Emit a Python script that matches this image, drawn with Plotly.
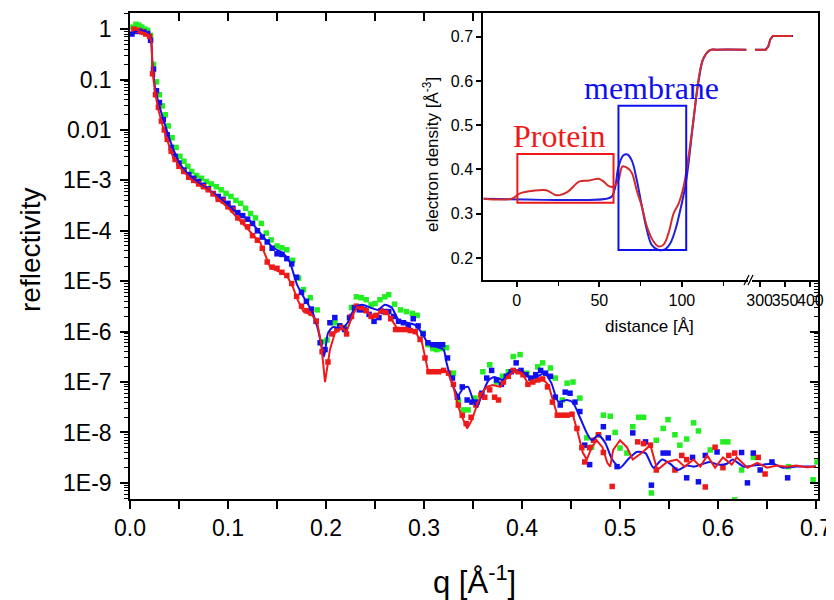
import plotly.graph_objects as go

# reflectivity data (q in 1/A)
green_q = [0.003, 0.006, 0.009, 0.012, 0.015, 0.018, 0.021, 0.024, 0.027, 0.030,
           0.033, 0.036, 0.039, 0.043, 0.047, 0.051, 0.055, 0.059, 0.063, 0.068,
           0.073, 0.078, 0.083, 0.088, 0.093, 0.098, 0.103, 0.108, 0.113, 0.118,
           0.123, 0.128, 0.134, 0.139, 0.144, 0.150, 0.155, 0.160, 0.166, 0.172,
           0.177, 0.184, 0.191, 0.196, 0.201, 0.209, 0.214, 0.219, 0.226, 0.231,
           0.236, 0.241, 0.246, 0.250, 0.255, 0.260, 0.264, 0.270, 0.276, 0.282,
           0.288, 0.293, 0.299, 0.304, 0.309, 0.313, 0.318, 0.323, 0.330, 0.335,
           0.340, 0.345, 0.352, 0.360, 0.367, 0.374, 0.380, 0.386, 0.391, 0.398,
           0.405, 0.410, 0.416, 0.421, 0.429, 0.434, 0.441, 0.446, 0.452, 0.459,
           0.466, 0.471, 0.478, 0.483, 0.490, 0.495, 0.500, 0.507, 0.513, 0.519,
           0.524, 0.532, 0.537, 0.544, 0.549, 0.556, 0.561, 0.568, 0.575, 0.580,
           0.592, 0.605, 0.610, 0.617, 0.624, 0.636, 0.672, 0.697, 0.701]
green_r = [1.1, 1.25, 1.2, 1.1, 1.0, 0.95, 0.75, 0.2, 0.09, 0.05,
           0.03, 0.02, 0.012, 7e-3, 4.5e-3, 3.0e-3, 2.4e-3, 1.9e-3, 1.5e-3, 1.25e-3,
           1.1e-3, 9.5e-4, 8.5e-4, 7.5e-4, 6.5e-4, 5.5e-4, 4.8e-4, 4e-4, 3.5e-4, 2.8e-4,
           2.2e-4, 1.8e-4, 1.4e-4, 9e-5, 6.6e-5, 5e-5, 4.6e-5, 4.2e-5, 2.6e-5, 1.15e-5,
           6.8e-6, 4.7e-6, 2.7e-6, 6.3e-7, 6.8e-7, 1.5e-6, 1.3e-6, 1.2e-6, 3e-6, 4.9e-6,
           4.7e-6, 4.3e-6, 3.4e-6, 3.6e-6, 4.3e-6, 4.9e-6, 5.4e-6, 3.5e-6, 2.7e-6, 2.5e-6,
           2.3e-6, 2.1e-6, 9.3e-7, 5.5e-7, 4.6e-7, 4.4e-7, 4.6e-7, 4.8e-7, 1.5e-7, 4.4e-8,
           2.8e-8, 2.8e-8, 4.8e-8, 1.6e-7, 2.2e-7, 1e-7, 1.3e-7, 1.6e-7, 3.2e-7, 3.5e-7,
           1.5e-7, 1.1e-7, 2e-7, 2.4e-7, 1.9e-7, 1.2e-7, 4.4e-8, 9.5e-8, 1e-7, 4.8e-8,
           7.8e-9, 5.1e-9, 9e-9, 2.2e-8, 2.1e-8, 1e-8, 4.9e-9, 3.9e-9, 1.3e-8, 2e-8,
           2e-8, 6.3e-10, 7e-9, 1.2e-8, 1.8e-8, 9e-9, 5.6e-9, 7.4e-9, 1.55e-8, 1.07e-8,
           4.5e-9, 6.5e-9, 6.5e-9, 4.6e-10, 1.8e-9, 3.2e-9, 2.1e-9, 1.15e-9, 2.6e-9]

blue_q = [0.002, 0.006, 0.010, 0.014, 0.018, 0.021, 0.024, 0.027, 0.030, 0.034,
          0.038, 0.042, 0.046, 0.050, 0.055, 0.060, 0.065, 0.070, 0.075, 0.080,
          0.085, 0.090, 0.095, 0.100, 0.105, 0.110, 0.115, 0.120, 0.125, 0.130,
          0.135, 0.140, 0.145, 0.150, 0.155, 0.160, 0.165, 0.170, 0.175, 0.180,
          0.185, 0.190, 0.194, 0.199, 0.204, 0.209, 0.214, 0.219, 0.224, 0.229,
          0.234, 0.239, 0.244, 0.249, 0.254, 0.259, 0.264, 0.269, 0.274, 0.279,
          0.284, 0.289, 0.294, 0.299, 0.304, 0.309, 0.314, 0.319, 0.324, 0.329,
          0.334, 0.339, 0.344, 0.349, 0.354, 0.359, 0.364, 0.369, 0.374, 0.379,
          0.384, 0.389, 0.394, 0.399, 0.404, 0.409, 0.414, 0.419, 0.424, 0.429,
          0.434, 0.439, 0.444, 0.449, 0.454, 0.459, 0.464, 0.469, 0.483, 0.488,
          0.497, 0.513, 0.526, 0.532, 0.544, 0.549, 0.568, 0.574, 0.580, 0.587,
          0.599, 0.624, 0.630, 0.636, 0.643, 0.655, 0.671, 0.666]
blue_r = [0.8, 0.9, 0.92, 0.88, 0.82, 0.6, 0.16, 0.06, 0.035, 0.016,
          8e-3, 4.5e-3, 3.0e-3, 2.2e-3, 1.6e-3, 1.3e-3, 1.1e-3, 9.5e-4, 8e-4, 6.8e-4,
          5.5e-4, 4.8e-4, 4.2e-4, 3.5e-4, 2.8e-4, 2.3e-4, 2.0e-4, 1.7e-4, 1.4e-4, 1.0e-4,
          7.5e-5, 6e-5, 4.5e-5, 3.5e-5, 3.4e-5, 2.8e-5, 2.2e-5, 1.2e-5, 6e-6, 4e-6,
          2.8e-6, 1.6e-6, 6e-7, 4.4e-7, 1.5e-6, 1.9e-6, 1.3e-6, 1.1e-6, 1.9e-6, 3.0e-6,
          2.7e-6, 2.7e-6, 2.2e-6, 1.6e-6, 1.9e-6, 2.5e-6, 2.5e-6, 2.0e-6, 1.6e-6, 1.5e-6,
          1.3e-6, 1.8e-6, 1.3e-6, 9e-7, 6e-7, 5.5e-7, 5.5e-7, 5.5e-7, 3e-7, 1.2e-7,
          5e-8, 8e-8, 4.4e-8, 4e-8, 4e-8, 6e-8, 1.2e-7, 1.7e-7, 1.1e-7, 9e-8,
          1.3e-7, 1.6e-7, 2.4e-7, 1.7e-7, 1.4e-7, 1.2e-7, 1.4e-7, 1.7e-7, 1.5e-7, 1.3e-7,
          5e-8, 3.5e-8, 6.3e-8, 6e-8, 4e-8, 2.6e-8, 5.6e-9, 2.3e-9, 1.3e-8, 7.8e-9,
          2.1e-9, 9.8e-9, 6.5e-9, 9e-10, 3.9e-9, 3.9e-9, 1.26e-9, 3.2e-9, 1.05e-9, 3.5e-9,
          4.1e-9, 4e-9, 1e-9, 3.9e-9, 1.8e-9, 2.6e-9, 1.26e-9, 4.2e-10]

red_q = [0.004, 0.008, 0.012, 0.016, 0.020, 0.023, 0.026, 0.029, 0.032, 0.035,
         0.038, 0.042, 0.046, 0.050, 0.055, 0.060, 0.065, 0.070, 0.075, 0.080,
         0.085, 0.090, 0.095, 0.100, 0.105, 0.110, 0.115, 0.120, 0.125, 0.130,
         0.135, 0.140, 0.145, 0.150, 0.155, 0.160, 0.165, 0.170, 0.175, 0.180,
         0.185, 0.190, 0.196, 0.202, 0.206, 0.211, 0.216, 0.221, 0.226, 0.231,
         0.236, 0.241, 0.246, 0.251, 0.256, 0.261, 0.266, 0.271, 0.276, 0.281,
         0.286, 0.291, 0.296, 0.301, 0.305, 0.310, 0.315, 0.320, 0.325, 0.330,
         0.335, 0.339, 0.343, 0.348, 0.353, 0.358, 0.362, 0.367, 0.372, 0.376,
         0.381, 0.386, 0.391, 0.396, 0.401, 0.406, 0.411, 0.416, 0.421, 0.426,
         0.431, 0.436, 0.441, 0.446, 0.451, 0.456, 0.461, 0.464, 0.469, 0.473,
         0.478, 0.483, 0.492, 0.518, 0.524, 0.531, 0.537, 0.556, 0.563, 0.568,
         0.587, 0.597, 0.605, 0.611, 0.617, 0.641, 0.648]
red_r = [1.0, 0.95, 0.88, 0.8, 0.72, 0.13, 0.05, 0.028, 0.015, 0.01,
         6.5e-3, 3.8e-3, 2.6e-3, 1.9e-3, 1.5e-3, 1.15e-3, 1.0e-3, 8.5e-4, 7.5e-4, 6.5e-4,
         5.4e-4, 4.2e-4, 3.9e-4, 3.0e-4, 2.6e-4, 1.8e-4, 1.5e-4, 1.2e-4, 8e-5, 6.5e-5,
         4.5e-5, 2.4e-5, 1.9e-5, 1.8e-5, 1.5e-5, 1.3e-5, 9e-6, 5e-6, 3.2e-6, 2.6e-6,
         2.3e-6, 1.6e-6, 4e-7, 2.5e-7, 9e-7, 1.1e-6, 1.2e-6, 9e-7, 2e-6, 3.2e-6,
         3.0e-6, 2.6e-6, 2.0e-6, 2.1e-6, 2.6e-6, 2.4e-6, 1.8e-6, 1.1e-6, 1.1e-6, 1.1e-6,
         1.05e-6, 1.0e-6, 7e-7, 3e-7, 1.6e-7, 1.6e-7, 1.6e-7, 1.7e-7, 1.5e-7, 9e-8,
         3.5e-8, 2.2e-8, 1.5e-8, 2.0e-8, 3.5e-8, 5.5e-8, 5e-8, 7e-8, 5e-8, 4.4e-8,
         1.0e-7, 1.3e-7, 1.7e-7, 1.6e-7, 1.4e-7, 9e-8, 1.0e-7, 1.1e-7, 1.15e-7, 8e-8,
         4e-8, 2.2e-8, 2.2e-8, 2.2e-8, 2.3e-8, 1.2e-8, 5e-9, 2.6e-9, 5e-9, 7e-9,
         9e-9, 4e-9, 8.5e-10, 6.5e-9, 6e-9, 5.6e-9, 1.8e-9, 1.8e-9, 3.5e-9, 2.9e-9,
         8.3e-10, 5.1e-9, 2.0e-9, 3.5e-9, 3.9e-9, 3.2e-9, 1.5e-9]

# fits
blue_fit_q = [0.000, 0.010, 0.018, 0.021, 0.023, 0.026, 0.030, 0.035, 0.040, 0.045,
              0.052, 0.060, 0.070, 0.080, 0.090, 0.100, 0.110, 0.122, 0.136, 0.146,
              0.156, 0.163, 0.170, 0.177, 0.186, 0.192, 0.198, 0.202, 0.207, 0.216,
              0.222, 0.230, 0.237, 0.245, 0.253, 0.260, 0.267, 0.274, 0.283, 0.291,
              0.298, 0.304, 0.313, 0.320, 0.323, 0.330, 0.335, 0.340, 0.345, 0.350,
              0.354, 0.359, 0.366, 0.372, 0.380, 0.386, 0.395, 0.401, 0.408, 0.415,
              0.423, 0.430, 0.437, 0.446, 0.452, 0.459, 0.466, 0.471, 0.478, 0.485,
              0.492, 0.500, 0.508, 0.517, 0.526, 0.534, 0.543, 0.551, 0.559, 0.568,
              0.576, 0.585, 0.592, 0.600, 0.609, 0.615, 0.626, 0.636, 0.646, 0.656,
              0.666, 0.680, 0.700]
blue_fit_r = [0.8, 0.95, 0.85, 0.7, 0.2, 0.06, 0.03, 0.014, 7e-3, 3.8e-3,
              2.0e-3, 1.3e-3, 9e-4, 6.5e-4, 4.8e-4, 3.3e-4, 2.2e-4, 1.6e-4, 7.6e-5, 4.6e-5,
              3.6e-5, 2.4e-5, 9e-6, 4.9e-6, 2.5e-6, 1.07e-6, 3.2e-7, 9.3e-7, 1.23e-6, 1.17e-6,
              1.5e-6, 3.1e-6, 3.4e-6, 3.0e-6, 2.7e-6, 3.4e-6, 3.0e-6, 1.7e-6, 1.5e-6, 1.35e-6,
              9.3e-7, 5.9e-7, 5e-7, 4.4e-7, 2.4e-7, 8e-8, 5.5e-8, 7.6e-8, 8e-8, 4.4e-8,
              3.2e-8, 5.5e-8, 1.1e-7, 1.26e-7, 1.1e-7, 1.5e-7, 1.7e-7, 1.6e-7, 1.2e-7, 1.26e-7,
              1.5e-7, 9.5e-8, 4.1e-8, 4.4e-8, 3.9e-8, 2.0e-8, 9.8e-9, 7e-9, 8.9e-9, 6.2e-9,
              2.9e-9, 2.0e-9, 2.9e-9, 4.1e-9, 3.9e-9, 2.0e-9, 2.9e-9, 2.4e-9, 1.8e-9, 2.2e-9,
              2.1e-9, 2.4e-9, 2.6e-9, 2.3e-9, 2.4e-9, 2.9e-9, 2.1e-9, 2.2e-9, 2.3e-9, 2.4e-9,
              2.0e-9, 2.1e-9, 2.1e-9]

red_fit_q = [0.004, 0.010, 0.016, 0.020, 0.022, 0.023, 0.026, 0.029, 0.033, 0.038,
             0.043, 0.051, 0.061, 0.071, 0.082, 0.092, 0.102, 0.112, 0.122, 0.133,
             0.143, 0.153, 0.160, 0.166, 0.171, 0.177, 0.186, 0.191, 0.195, 0.199,
             0.204, 0.209, 0.216, 0.221, 0.227, 0.232, 0.240, 0.248, 0.257, 0.263,
             0.272, 0.283, 0.291, 0.298, 0.304, 0.316, 0.324, 0.330, 0.335, 0.340,
             0.344, 0.349, 0.354, 0.359, 0.364, 0.370, 0.378, 0.385, 0.393, 0.400,
             0.406, 0.413, 0.420, 0.427, 0.432, 0.436, 0.446, 0.452, 0.457, 0.462,
             0.466, 0.471, 0.476, 0.482, 0.487, 0.490, 0.493, 0.500, 0.507, 0.513,
             0.522, 0.531, 0.538, 0.548, 0.558, 0.566, 0.575, 0.582, 0.589, 0.597,
             0.605, 0.614, 0.619, 0.630, 0.640, 0.650, 0.660, 0.670, 0.680, 0.690,
             0.700]
red_fit_r = [1.05, 0.9, 0.82, 0.75, 0.55, 0.14, 0.05, 0.025, 0.0125, 6e-3,
             3.2e-3, 1.8e-3, 1.1e-3, 8e-4, 6e-4, 4e-4, 2.6e-4, 1.6e-4, 1.0e-4, 5.8e-5,
             1.9e-5, 1.5e-5, 1.3e-5, 7.8e-6, 4.3e-6, 2.5e-6, 2.1e-6, 1.5e-6, 6e-7, 1.0e-7,
             4.4e-7, 9.3e-7, 1.2e-6, 1.0e-6, 2.1e-6, 3.1e-6, 2.7e-6, 1.95e-6, 2.5e-6, 2.3e-6,
             1.2e-6, 1.07e-6, 1.0e-6, 6e-7, 1.7e-7, 1.6e-7, 1.6e-7, 8e-8, 3.2e-8, 1.8e-8,
             1.2e-8, 1.8e-8, 3.5e-8, 6e-8, 8e-8, 8.7e-8, 8e-8, 1.26e-7, 1.7e-7, 1.5e-7,
             9.5e-8, 1.0e-7, 1.2e-7, 8.7e-8, 4.1e-8, 2.2e-8, 2.2e-8, 2.2e-8, 9.8e-9, 4e-9,
             2.9e-9, 5e-9, 7e-9, 5.1e-9, 2.5e-9, 2.1e-9, 4.5e-9, 7e-9, 5.1e-9, 2.9e-9,
             3.9e-9, 5.6e-9, 1.8e-9, 2.6e-9, 2.9e-9, 2.1e-9, 2.9e-9, 2.1e-9, 3.5e-9, 2.0e-9,
             3.2e-9, 2.3e-9, 3.2e-9, 2.0e-9, 2.5e-9, 2.0e-9, 2.2e-9, 2.1e-9, 2.2e-9, 2.05e-9,
             2.1e-9]

# inset: electron density profiles
red_dist = [-20, -3, 2, 10, 18, 23, 26, 31, 38, 44, 49.5, 52.5, 55.5, 58.6, 61.6, 64, 66.7, 69.7,
            72.7, 75.8, 78.8, 82.8, 85.9, 88.9, 91.9, 95, 98, 101, 104, 107, 110, 113, 117, 121, 139]
red_dens = [0.334, 0.334, 0.346, 0.352, 0.353, 0.343, 0.342, 0.35, 0.373, 0.375, 0.379, 0.373,
            0.363, 0.361, 0.376, 0.407, 0.404, 0.392, 0.352, 0.316, 0.271, 0.237, 0.226, 0.23,
            0.256, 0.301, 0.323, 0.361, 0.429, 0.512, 0.602, 0.651, 0.67, 0.671, 0.671]
blue_dist = [-20, 54.5, 57.6, 59.6, 61.6, 64.6, 67, 69.7, 72.7, 75.8, 78.8, 81.8, 85.9, 90, 93,
             96, 99, 102, 104, 107, 110, 113, 117, 121, 139]
blue_dens = [0.334, 0.334, 0.339, 0.36, 0.406, 0.432, 0.434, 0.42, 0.376, 0.316, 0.263, 0.229,
             0.218, 0.22, 0.233, 0.263, 0.308, 0.361, 0.414, 0.512, 0.598, 0.651, 0.67, 0.671, 0.671]
far_dist = [291, 312, 317, 321, 326, 364]
far_dens = [0.671, 0.671, 0.678, 0.694, 0.702, 0.702]
far_dist_blue = [291, 312, 317, 321, 326, 366]

y_ticks = [1, 0.1, 0.01, 1e-3, 1e-4, 1e-5, 1e-6, 1e-7, 1e-8, 1e-9]
y_ticktext = ['1', '0.1', '0.01', '1E-3', '1E-4', '1E-5', '1E-6', '1E-7', '1E-8', '1E-9']
x_ticks = [0.0, 0.1, 0.2, 0.3, 0.4, 0.5, 0.6, 0.7]
x_ticktext = ['0.0', '0.1', '0.2', '0.3', '0.4', '0.5', '0.6', '0.7']

# the page body has an 8px margin, so the figure is 8px smaller and laid out in page pixels
OFF = 8
W, H = 834 - OFF, 600 - OFF
SANS = 'Liberation Sans, Arial, sans-serif'
SERIF = 'Liberation Serif, Times New Roman, serif'
GREEN, BLUE, RED = '#22ee22', '#1010ee', '#ee1a1a'


def px_x(p):
    return (p - OFF) / W


def px_y(p):
    return 1 - (p - OFF) / H


y_minor = [k * 10.0 ** n for n in range(-10, 1) for k in range(2, 10)]
x_minor = [0.05, 0.15, 0.25, 0.35, 0.45, 0.55, 0.65]

fig = go.Figure()
mk = dict(symbol='square', size=5.5)
fig.add_trace(go.Scatter(x=green_q, y=green_r, mode='markers', marker=dict(color=GREEN, **mk)))
fig.add_trace(go.Scatter(x=blue_q, y=blue_r, mode='markers', marker=dict(color=BLUE, **mk)))
fig.add_trace(go.Scatter(x=red_q, y=red_r, mode='markers', marker=dict(color=RED, **mk)))
fig.add_trace(go.Scatter(x=blue_fit_q, y=blue_fit_r, mode='lines',
                         line=dict(color=BLUE, width=2, shape='spline', smoothing=0.6)))
fig.add_trace(go.Scatter(x=red_fit_q, y=red_fit_r, mode='lines', line=dict(color=RED, width=2)))

# inset traces
ins = dict(mode='lines', xaxis='x3', yaxis='y3')
fig.add_trace(go.Scatter(x=blue_dist, y=blue_dens, line=dict(color='#2020e0', width=2, shape='spline'), **ins))
fig.add_trace(go.Scatter(x=red_dist, y=red_dens, line=dict(color='#d42a2a', width=2, shape='spline'), **ins))
ins4 = dict(mode='lines', xaxis='x4', yaxis='y3')
fig.add_trace(go.Scatter(x=far_dist_blue, y=far_dens, line=dict(color='#2020e0', width=2), **ins4))
fig.add_trace(go.Scatter(x=far_dist, y=far_dens, line=dict(color='#d42a2a', width=2), **ins4))
fig.add_trace(go.Scatter(x=[None], y=[None], xaxis='x2', yaxis='y2', showlegend=False))

axis_common = dict(showline=True, linecolor='black', linewidth=1.5, showgrid=False, zeroline=False,
                   tickcolor='black', tickwidth=1.5, automargin=False)
main_x_dom = [px_x(130), px_x(818)]
main_y_dom = [px_y(499), px_y(13)]
y_range = [-9.32, 0.32]
x_range = [0, 0.702]

fig.update_layout(
    width=W, height=H, showlegend=False,
    margin=dict(l=0, r=0, t=0, b=0),
    paper_bgcolor='white', plot_bgcolor='white',
    font=dict(family=SANS, color='black'),
    xaxis=dict(domain=main_x_dom, range=x_range, anchor='y', ticks='outside', ticklen=8,
               tickmode='array', tickvals=x_ticks, ticktext=x_ticktext, tickfont=dict(size=23),
               minor=dict(tickmode='array', tickvals=x_minor, ticks='outside', ticklen=8,
                          tickcolor='black', tickwidth=1.5), **axis_common),
    yaxis=dict(domain=main_y_dom, type='log', range=y_range, anchor='x', ticks='outside', ticklen=8,
               tickmode='array', tickvals=y_ticks, ticktext=y_ticktext, tickfont=dict(size=23),
               ticklabelstandoff=4,
               minor=dict(tickmode='array', tickvals=y_minor, ticks='outside', ticklen=4,
                          tickcolor='black', tickwidth=1), **axis_common),
    xaxis2=dict(overlaying='x', side='top', range=x_range, anchor='y', ticks='inside', ticklen=8,
                tickmode='array', tickvals=x_ticks + x_minor, showticklabels=False, **axis_common),
    yaxis2=dict(overlaying='y', side='right', type='log', range=y_range, anchor='x', ticks='inside',
                ticklen=8, tickmode='array', tickvals=y_ticks, showticklabels=False,
                minor=dict(tickmode='array', tickvals=y_minor, ticks='inside', ticklen=4,
                           tickcolor='black', tickwidth=1), **axis_common),
    xaxis3=dict(domain=[px_x(483), px_x(748)], range=[-20.4, 140], anchor='y3', ticks='outside',
                ticklen=5, tickmode='array', tickvals=[0, 50, 100], tickfont=dict(size=16),
                minor=dict(tickmode='array', tickvals=[25, 75, 125], ticks='outside', ticklen=4,
                           tickcolor='black', tickwidth=1), **axis_common),
    xaxis4=dict(domain=[px_x(752), px_x(818)], range=[285, 415], anchor='y3', ticks='outside',
                ticklen=5, tickmode='array', tickvals=[300, 350, 400], tickangle=0,
                tickfont=dict(size=16), **axis_common),
    yaxis3=dict(domain=[px_y(280), px_y(13)], range=[0.15, 0.754], anchor='x3', ticks='outside',
                ticklen=5, tickmode='array', tickvals=[0.2, 0.3, 0.4, 0.5, 0.6, 0.7],
                tickfont=dict(size=16), **axis_common),
)

# boxes marking the protein and membrane regions
fig.add_shape(type='rect', xref='x3', yref='y3', x0=0.4, x1=58.6, y0=0.325, y1=0.435,
              line=dict(color='#ee1a1a', width=2))
fig.add_shape(type='rect', xref='x3', yref='y3', x0=61.6, x1=102.6, y0=0.218, y1=0.544,
              line=dict(color='#1010ee', width=2))
# axis break marks
for off in (0, 4):
    fig.add_shape(type='line', xref='paper', yref='paper',
                  x0=px_x(744 + off), y0=px_y(285), x1=px_x(749 + off), y1=px_y(275),
                  line=dict(color='black', width=1.2))

centred = dict(showarrow=False, xanchor='center', yanchor='middle')
fig.add_annotation(x=25.7, y=0.476, xref='x3', yref='y3', text='Protein',
                   font=dict(family=SERIF, size=32, color='#ee1a1a'), **centred)
fig.add_annotation(x=81.8, y=0.585, xref='x3', yref='y3', text='membrane',
                   font=dict(family=SERIF, size=32, color='#1010ee'), **centred)

fig.add_annotation(x=px_x(431), y=px_y(155), xref='paper', yref='paper',
                   text='electron density [Å<sup>-3</sup>]', textangle=-90,
                   font=dict(size=17), **centred)
fig.add_annotation(x=px_x(649), y=px_y(326), xref='paper', yref='paper',
                   text='distance [Å]', font=dict(size=17), **centred)
fig.add_annotation(x=px_x(30), y=px_y(250), xref='paper', yref='paper',
                   text='reflectivity', textangle=-90, font=dict(size=28), **centred)
fig.add_annotation(x=px_x(474), y=px_y(580), xref='paper', yref='paper',
                   text='q [Å<sup>-1</sup>]', font=dict(size=31), **centred)

fig.write_html("out.html")
